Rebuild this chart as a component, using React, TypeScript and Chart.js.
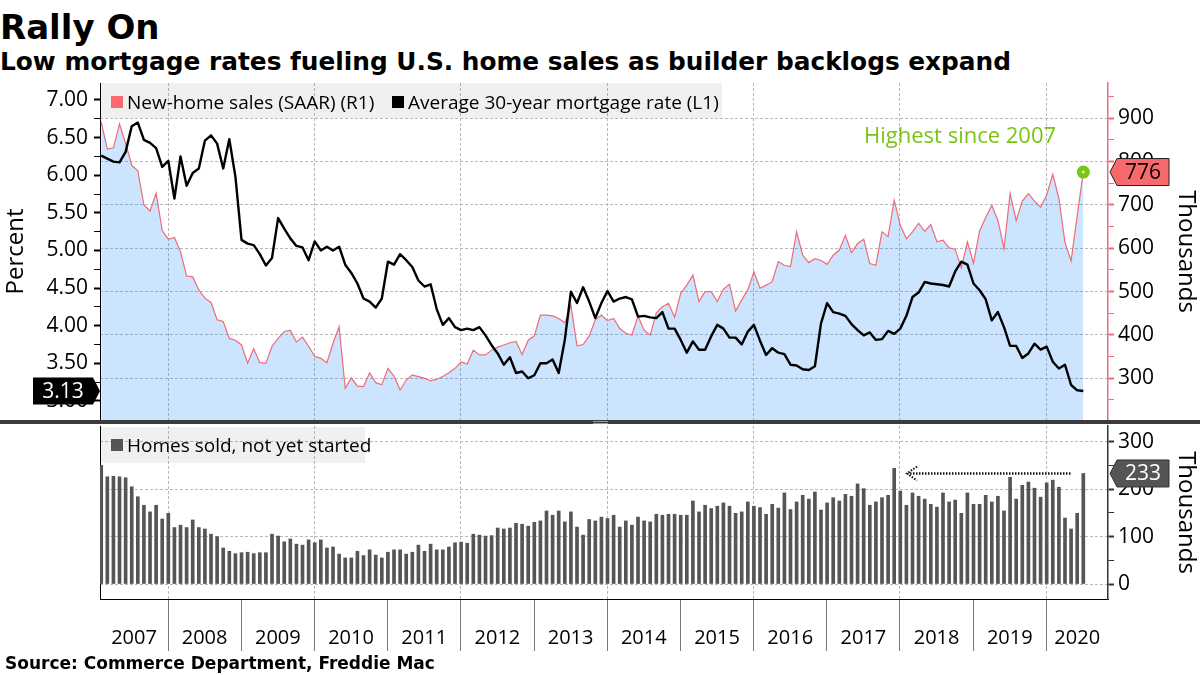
import React, { useEffect, useRef } from 'react';
import { Chart, registerables } from 'chart.js';

Chart.register(...registerables);

const FONT = '"Open Sans", "Noto Sans", sans-serif';
const HEAD_FONT = '"DejaVu Sans", Verdana, sans-serif';

const YEARS = [2007, 2008, 2009, 2010, 2011, 2012, 2013, 2014, 2015, 2016, 2017, 2018, 2019, 2020];

// Monthly, Jan 2007 .. Jun 2020
const NEW_HOME_SALES = [
  892, 829, 832, 887, 842, 792, 779, 700, 686, 727, 641, 621,
  625, 592, 536, 534, 504, 485, 475, 435, 431, 392, 388, 377,
  335, 368, 336, 335, 374, 392, 408, 411, 384, 395, 374, 351,
  346, 336, 381, 419, 277, 301, 282, 281, 313, 290, 285, 323,
  305, 273, 296, 308, 304, 300, 294, 298, 304, 313, 323, 338,
  333, 365, 354, 354, 365, 372, 377, 382, 385, 355, 388, 398,
  446, 446, 444, 438, 428, 469, 375, 378, 398, 435, 446, 433,
  438, 415, 404, 400, 444, 411, 400, 451, 465, 473, 441, 496,
  515, 538, 477, 500, 500, 477, 506, 517, 455, 481, 504, 546,
  508, 515, 523, 569, 561, 558, 638, 584, 567, 576, 572, 563,
  584, 596, 630, 590, 611, 621, 565, 561, 638, 627, 711, 653,
  622, 638, 658, 639, 655, 615, 619, 601, 598, 555, 615, 565,
  640, 671, 699, 665, 599, 727, 664, 709, 726, 709, 695, 723,
  771, 715, 613, 571, 675, 776,
];

const MORTGAGE_RATE = [
  6.26, 6.22, 6.18, 6.17, 6.31, 6.65, 6.70, 6.47, 6.43, 6.36, 6.11, 6.19,
  5.69, 6.25, 5.86, 6.03, 6.09, 6.46, 6.53, 6.42, 6.09, 6.48, 5.98, 5.14,
  5.09, 5.07, 4.95, 4.80, 4.90, 5.43, 5.29, 5.16, 5.06, 5.04, 4.87, 5.12,
  5.00, 5.05, 5.00, 5.05, 4.81, 4.70, 4.56, 4.36, 4.32, 4.24, 4.36, 4.85,
  4.81, 4.95, 4.87, 4.78, 4.60, 4.52, 4.55, 4.22, 4.01, 4.10, 3.98, 3.94,
  3.96, 3.94, 3.98, 3.87, 3.74, 3.63, 3.48, 3.58, 3.37, 3.39, 3.30, 3.34,
  3.50, 3.50, 3.55, 3.37, 3.81, 4.45, 4.30, 4.51, 4.32, 4.10, 4.30, 4.46,
  4.32, 4.36, 4.38, 4.35, 4.12, 4.13, 4.11, 4.10, 4.18, 3.96, 3.96, 3.81,
  3.64, 3.79, 3.68, 3.68, 3.86, 4.01, 3.96, 3.84, 3.84, 3.75, 3.92, 4.01,
  3.80, 3.61, 3.70, 3.64, 3.62, 3.48, 3.47, 3.42, 3.41, 3.46, 4.03, 4.30,
  4.18, 4.16, 4.13, 4.02, 3.94, 3.87, 3.91, 3.81, 3.82, 3.93, 3.89, 3.96,
  4.13, 4.38, 4.44, 4.58, 4.56, 4.55, 4.54, 4.52, 4.72, 4.85, 4.81, 4.56,
  4.47, 4.35, 4.07, 4.18, 3.98, 3.73, 3.73, 3.57, 3.63, 3.76, 3.68, 3.72,
  3.52, 3.43, 3.48, 3.21, 3.14, 3.13,
];

const SOLD_NOT_STARTED = [
  250, 226, 227, 226, 224, 205, 184, 166, 152, 166, 137, 149,
  119, 124, 119, 135, 119, 116, 105, 100, 76, 69, 64, 66,
  67, 64, 66, 66, 105, 101, 89, 95, 84, 82, 93, 87,
  93, 76, 78, 63, 55, 55, 69, 60, 72, 61, 55, 67,
  72, 72, 63, 67, 82, 69, 84, 72, 72, 78, 87, 88,
  86, 105, 103, 101, 102, 118, 116, 118, 128, 126, 122, 130,
  133, 154, 145, 154, 131, 152, 120, 103, 136, 133, 141, 138,
  145, 120, 133, 124, 141, 133, 131, 147, 145, 147, 147, 145,
  145, 175, 152, 166, 159, 164, 171, 164, 149, 152, 173, 164,
  161, 147, 168, 160, 192, 157, 173, 187, 179, 194, 156, 171,
  182, 175, 189, 185, 211, 201, 166, 173, 182, 187, 244, 196,
  166, 192, 185, 179, 168, 162, 192, 173, 177, 149, 192, 168,
  168, 187, 173, 185, 154, 225, 179, 208, 215, 202, 183, 213,
  219, 204, 139, 116, 149, 233,
];

const RATE_TICKS = [3.0, 3.25, 3.5, 3.75, 4.0, 4.25, 4.5, 4.75, 5.0, 5.25, 5.5, 5.75, 6.0, 6.25, 6.5, 6.75, 7.0];
const SALES_TICKS = [250, 300, 350, 400, 450, 500, 550, 600, 650, 700, 750, 800, 850, 900, 950];
const BACKLOG_TICKS = [0, 50, 100, 150, 200, 250, 300];

const LEGEND_SALES = 'New-home sales (SAAR) (R1)';
const LEGEND_RATE = 'Average 30-year mortgage rate (L1)';
const LEGEND_BACKLOG = 'Homes sold, not yet started';
const NOTE_TEXT = 'Highest since 2007';

const X_MIN = -0.2;
const X_MAX = 165.05;
const GRID = '#b9b9b9';
const RED = '#ef6b78';
const GREEN = '#7ac415';
const BAR = '#555555';
const SEP = '#7a7a7a';

const yearStart = (y: number) => (y - YEARS[0]) * 12 - 1.05;
const BOUNDARIES = YEARS.slice(1).map(yearStart);
const GRID_LINES = YEARS.filter((y) => y % 2 === 0).map(yearStart);
const LABEL_POS = YEARS.map((y) => (Math.max(yearStart(y), X_MIN) + Math.min(yearStart(y + 1), X_MAX)) / 2);

const near = (a: any, list: number[]) => typeof a === 'number' && list.some((b) => Math.abs(a - b) < 1e-6);
const toPoints = (arr: number[]) => arr.map((v, i) => ({ x: i, y: v }));
const isHalf = (v: any) => typeof v === 'number' && Math.abs(v * 2 - Math.round(v * 2)) < 1e-6;
const isHundred = (v: any) => typeof v === 'number' && Math.abs(v % 100) < 1e-6;
const TRANSPARENT = 'rgba(0,0,0,0)';

const fixWidth = (w: number) => (s: any) => {
  s.width = w;
  s.paddingTop = 0;
  s.paddingBottom = 0;
  s.paddingLeft = 0;
  s.paddingRight = 0;
};
const fixHeight = (h: number) => (s: any) => {
  s.height = h;
  s.paddingTop = 0;
  s.paddingBottom = 0;
  s.paddingLeft = 0;
  s.paddingRight = 0;
};

function drawCallout(ctx: any, tipX: number, y: number, dir: string, w: number, text: string, fill: string, color: string, stroke: string | null) {
  const h = 27;
  const a = 7;
  ctx.beginPath();
  if (dir === 'left') {
    ctx.moveTo(tipX, y);
    ctx.lineTo(tipX + a, y - h / 2);
    ctx.lineTo(tipX + a + w, y - h / 2);
    ctx.lineTo(tipX + a + w, y + h / 2);
    ctx.lineTo(tipX + a, y + h / 2);
  } else {
    ctx.moveTo(tipX, y);
    ctx.lineTo(tipX - a, y - h / 2);
    ctx.lineTo(tipX - a - w, y - h / 2);
    ctx.lineTo(tipX - a - w, y + h / 2);
    ctx.lineTo(tipX - a, y + h / 2);
  }
  ctx.closePath();
  ctx.fillStyle = fill;
  ctx.fill();
  if (stroke) {
    ctx.strokeStyle = stroke;
    ctx.lineWidth = 1;
    ctx.stroke();
  }
  ctx.fillStyle = color;
  ctx.font = `21px ${FONT}`;
  ctx.textAlign = 'center';
  ctx.textBaseline = 'middle';
  const cx = dir === 'left' ? tipX + a + w / 2 : tipX - a - w / 2;
  ctx.fillText(text, cx, y + 1);
}

const topAnnotations = {
  id: 'topAnnotations',
  afterDraw(chart: any) {
    const { ctx, chartArea, scales } = chart;
    const xs = scales.x;
    const yL = scales.yL;
    const yR = scales.yR;
    const last = NEW_HOME_SALES.length - 1;
    const px = xs.getPixelForValue(last);
    const py = yR.getPixelForValue(NEW_HOME_SALES[last]);
    ctx.save();
    ctx.fillStyle = GREEN;
    ctx.beginPath();
    ctx.arc(px, py, 6.5, 0, Math.PI * 2);
    ctx.fill();
    ctx.fillStyle = '#e4f5c8';
    ctx.beginPath();
    ctx.arc(px, py, 1.4, 0, Math.PI * 2);
    ctx.fill();
    ctx.font = `22px ${FONT}`;
    ctx.fillStyle = GREEN;
    ctx.textAlign = 'center';
    ctx.textBaseline = 'middle';
    ctx.fillText(NOTE_TEXT, xs.getPixelForValue(140.8), yR.getPixelForValue(857));
    drawCallout(ctx, chartArea.right + 2, py, 'left', 52, String(NEW_HOME_SALES[last]), '#f7696b', '#000', '#222');
    const ry = yL.getPixelForValue(MORTGAGE_RATE[last]);
    drawCallout(ctx, chartArea.left, ry, 'right', 60, MORTGAGE_RATE[last].toFixed(2), '#000', '#fff', null);
    ctx.restore();
  },
};

const bottomAnnotations = {
  id: 'bottomAnnotations',
  afterDraw(chart: any) {
    const { ctx, chartArea, scales } = chart;
    const xs = scales.x;
    const yB = scales.yB;
    const last = SOLD_NOT_STARTED.length - 1;
    const y = yB.getPixelForValue(SOLD_NOT_STARTED[last]);
    const x0 = xs.getPixelForValue(132.1);
    const x1 = xs.getPixelForValue(158.9);
    ctx.save();
    ctx.strokeStyle = '#111';
    ctx.lineWidth = 2.5;
    ctx.setLineDash([1.5, 1.5]);
    ctx.beginPath();
    ctx.moveTo(x1, y);
    ctx.lineTo(x0 + 1, y);
    ctx.stroke();
    ctx.lineWidth = 2;
    ctx.beginPath();
    ctx.moveTo(x0 + 10, y - 7);
    ctx.lineTo(x0, y);
    ctx.lineTo(x0 + 10, y + 7);
    ctx.stroke();
    ctx.setLineDash([]);
    drawCallout(ctx, chartArea.right + 2, y, 'left', 52, String(SOLD_NOT_STARTED[last]), '#555', '#fff', '#333');
    ctx.restore();
  },
};

export default function App() {
  const topRef = useRef<HTMLCanvasElement>(null);
  const botRef = useRef<HTMLCanvasElement>(null);

  useEffect(() => {
    const tickFont = { family: FONT, size: 21 };
    const titleFont = { family: FONT, size: 24 };

    const top = new Chart(topRef.current as any, {
      type: 'line',
      data: {
        datasets: [
          {
            label: LEGEND_RATE,
            data: toPoints(MORTGAGE_RATE),
            yAxisID: 'yL',
            borderColor: '#000',
            borderWidth: 2.4,
            pointRadius: 0,
            fill: false,
            borderJoinStyle: 'round',
          },
          {
            label: LEGEND_SALES,
            data: toPoints(NEW_HOME_SALES),
            yAxisID: 'yR',
            borderColor: RED,
            borderWidth: 1.2,
            pointRadius: 0,
            fill: 'start',
            backgroundColor: 'rgba(0,122,245,0.2)',
          },
        ],
      } as any,
      options: {
        animation: false,
        responsive: false,
        devicePixelRatio: 1,
        layout: { autoPadding: false, padding: { top: 3, bottom: 2, left: 0, right: 0 } },
        plugins: { legend: { display: false }, tooltip: { enabled: false } },
        scales: {
          x: {
            type: 'linear',
            min: X_MIN,
            max: X_MAX,
            afterBuildTicks: (s: any) => { s.ticks = GRID_LINES.map((v) => ({ value: v })); },
            afterFit: fixHeight(0),
            ticks: { display: false },
            grid: { color: GRID, drawTicks: false, lineWidth: 1 },
            border: { display: false, dash: [3, 2] },
          },
          yL: {
            position: 'left',
            min: 2.745,
            max: 7.226,
            afterBuildTicks: (s: any) => { s.ticks = RATE_TICKS.map((v) => ({ value: v })); },
            afterFit: fixWidth(100),
            ticks: {
              autoSkip: false,
              padding: 6,
              color: '#000',
              font: tickFont,
              callback: (v: any) => (isHalf(Number(v)) ? Number(v).toFixed(2) : ''),
            },
            grid: {
              drawOnChartArea: false,
              tickLength: 6,
              tickColor: '#000',
              tickWidth: (c: any) => (isHalf(c.tick && c.tick.value) ? 2 : 1),
              tickBorderDash: [],
            },
            border: { color: '#000', width: 1 },
            title: { display: true, text: 'Percent', color: '#000', font: titleFont, padding: { top: 2, bottom: 0 } },
          },
          yR: {
            position: 'right',
            min: 203.8,
            max: 981.5,
            afterBuildTicks: (s: any) => { s.ticks = SALES_TICKS.map((v) => ({ value: v })); },
            afterFit: fixWidth(92),
            ticks: {
              autoSkip: false,
              padding: 4,
              color: '#000',
              font: tickFont,
              callback: (v: any) => (isHundred(Number(v)) ? String(v) : ''),
            },
            grid: {
              drawOnChartArea: true,
              color: (c: any) => (isHundred(c.tick && c.tick.value) ? GRID : TRANSPARENT),
              tickLength: 6,
              tickColor: RED,
              tickWidth: (c: any) => (isHundred(c.tick && c.tick.value) ? 2 : 1),
              tickBorderDash: [],
            },
            border: { color: RED, width: 1.5, dash: [3, 2] },
            title: { display: true, text: 'Thousands', color: '#000', font: titleFont, padding: { top: 0, bottom: 0 } },
          },
        },
      } as any,
      plugins: [topAnnotations],
    });

    const bottom = new Chart(botRef.current as any, {
      type: 'bar',
      data: {
        datasets: [
          {
            label: LEGEND_BACKLOG,
            data: toPoints(SOLD_NOT_STARTED),
            yAxisID: 'yB',
            backgroundColor: BAR,
            borderWidth: 0,
            barThickness: 3,
          },
        ],
      } as any,
      options: {
        animation: false,
        responsive: false,
        devicePixelRatio: 1,
        layout: { autoPadding: false, padding: { top: 2, bottom: 0, left: 0, right: 0 } },
        plugins: { legend: { display: false }, tooltip: { enabled: false } },
        scales: {
          x: {
            type: 'linear',
            position: 'bottom',
            min: X_MIN,
            max: X_MAX,
            offset: false,
            afterBuildTicks: (s: any) => {
              s.ticks = [...BOUNDARIES, ...LABEL_POS].sort((a, b) => a - b).map((v) => ({ value: v }));
            },
            afterFit: fixHeight(61),
            ticks: {
              autoSkip: false,
              maxRotation: 0,
              minRotation: 0,
              padding: 0,
              color: '#000',
              font: { family: FONT, size: 20 },
              callback: (v: any) => {
                const k = LABEL_POS.findIndex((p) => Math.abs(p - Number(v)) < 1e-6);
                return k >= 0 ? String(YEARS[k]) : '';
              },
            },
            grid: {
              offset: false,
              color: (c: any) => (near(c.tick && c.tick.value, GRID_LINES) ? GRID : TRANSPARENT),
              tickColor: (c: any) => (near(c.tick && c.tick.value, BOUNDARIES) ? SEP : TRANSPARENT),
              tickLength: 27,
              tickWidth: 1,
              tickBorderDash: [],
              lineWidth: 1,
            },
            border: { display: true, color: '#000', width: 1, dash: [3, 2] },
          },
          xSep: {
            type: 'linear',
            axis: 'x',
            position: { yB: -88.5 },
            min: X_MIN,
            max: X_MAX,
            offset: false,
            afterBuildTicks: (s: any) => { s.ticks = BOUNDARIES.map((v) => ({ value: v })); },
            afterFit: fixHeight(0),
            ticks: { display: false },
            grid: {
              offset: false,
              drawOnChartArea: false,
              tickColor: SEP,
              tickLength: 25,
              tickWidth: 1,
              tickBorderDash: [],
            },
            border: { display: false },
          },
          yLeft: {
            position: 'left',
            min: -31.6,
            max: 333.1,
            afterFit: fixWidth(100),
            ticks: { display: false },
            grid: { drawOnChartArea: false, drawTicks: false },
            border: { color: '#000', width: 1 },
          },
          yB: {
            position: 'right',
            min: -31.6,
            max: 333.1,
            afterBuildTicks: (s: any) => { s.ticks = BACKLOG_TICKS.map((v) => ({ value: v })); },
            afterFit: fixWidth(92),
            ticks: {
              autoSkip: false,
              padding: 4,
              color: '#000',
              font: tickFont,
              callback: (v: any) => (isHundred(Number(v)) ? String(v) : ''),
            },
            grid: {
              drawOnChartArea: true,
              color: (c: any) => (isHundred(c.tick && c.tick.value) ? GRID : TRANSPARENT),
              tickLength: 6,
              tickColor: '#333',
              tickWidth: (c: any) => (isHundred(c.tick && c.tick.value) ? 2 : 1),
              tickBorderDash: [],
            },
            border: { color: '#333', width: 1.5, dash: [3, 2] },
            title: { display: true, text: 'Thousands', color: '#000', font: titleFont, padding: { top: 0, bottom: 0 } },
          },
        },
      } as any,
      plugins: [bottomAnnotations],
    });

    return () => {
      top.destroy();
      bottom.destroy();
    };
  }, []);

  const abs = (o: any) => ({ position: 'absolute' as const, whiteSpace: 'nowrap' as const, ...o });

  return (
    <div style={{ position: 'absolute', left: 0, top: 0, width: 1200, height: 675, background: '#fff', overflow: 'hidden' }}>
      <div style={abs({ left: 0, top: 10, font: `bold 34px/34px ${HEAD_FONT}`, color: '#000' })}>Rally On</div>
      <div style={abs({ left: 0, top: 50, font: `bold 24.8px/24.8px ${HEAD_FONT}`, color: '#000' })}>
        Low mortgage rates fueling U.S. home sales as builder backlogs expand
      </div>
      <canvas ref={topRef} width={1200} height={342} style={{ position: 'absolute', left: 0, top: 80, width: 1200, height: 342 }} />
      <canvas ref={botRef} width={1200} height={236} style={{ position: 'absolute', left: 0, top: 424, width: 1200, height: 236 }} />
      <div style={abs({ left: 0, top: 420, width: 1200, height: 4, background: '#3b3b3b' })} />
      <div style={abs({ left: 593, top: 421, width: 15, height: 1, background: '#9a9a9a' })} />
      <div style={abs({ left: 593, top: 423, width: 15, height: 1, background: '#9a9a9a' })} />

      <div style={abs({ left: 100, top: 83, width: 622, height: 35, background: 'rgba(0,0,0,0.06)' })} />
      <div style={abs({ left: 111, top: 96, width: 12, height: 12, background: '#f86a6f' })} />
      <div style={abs({ left: 127, top: 91, font: `19px/22px ${FONT}`, color: '#000' })}>{LEGEND_SALES}</div>
      <div style={abs({ left: 392, top: 96, width: 12, height: 12, background: '#000' })} />
      <div style={abs({ left: 408, top: 91, font: `19px/22px ${FONT}`, color: '#000' })}>{LEGEND_RATE}</div>

      <div style={abs({ left: 100, top: 427, width: 265, height: 36, background: 'rgba(0,0,0,0.06)' })} />
      <div style={abs({ left: 111, top: 439, width: 12, height: 12, background: BAR })} />
      <div style={abs({ left: 127, top: 434, font: `19px/22px ${FONT}`, color: '#000' })}>{LEGEND_BACKLOG}</div>

      <div style={abs({ left: 5, top: 655, font: `bold 17px/17px ${HEAD_FONT}`, color: '#000' })}>
        Source: Commerce Department, Freddie Mac
      </div>
    </div>
  );
}
